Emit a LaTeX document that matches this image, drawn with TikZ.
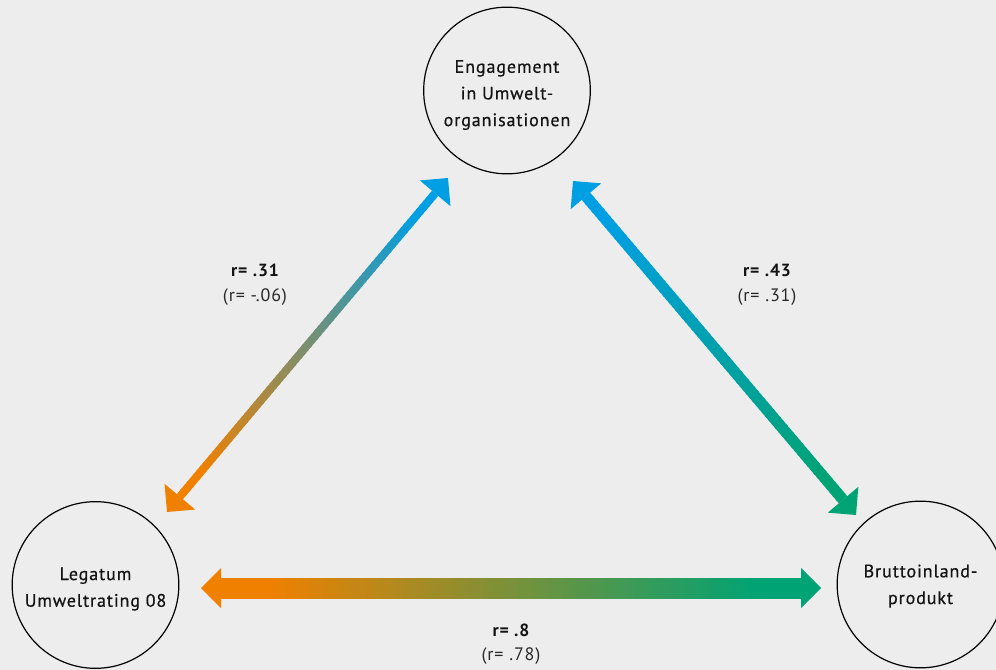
\documentclass[tikz,border=0pt]{standalone}
\usepackage{fontspec}
\setmainfont{PT Sans}[LetterSpace=5]
\newfontfamily\medfont{PT Sans}[LetterSpace=5,FakeBold=0.6]
\usetikzlibrary{calc}
\definecolor{bg}{RGB}{237,237,237}
\definecolor{corange}{RGB}{240,128,0}
\definecolor{cblue}{RGB}{0,159,227}
\definecolor{cgreen}{RGB}{0,163,116}
\definecolor{ctext}{RGB}{20,20,20}
\definecolor{csub}{RGB}{40,40,40}
% #1 start coord, #2 end coord, #3 shaft width, #4 start colour, #5 end colour
\newcommand\gradarrow[5]{%
  \coordinate (#1h) at ($(#1)!15pt!(#2)$);
  \coordinate (#2h) at ($(#2)!15pt!(#1)$);
  \foreach \i in {0,...,79}{
    \pgfmathsetmacro\ta{\i/80}
    \pgfmathsetmacro\tb{min((\i+1.5)/80,1)}
    \pgfmathtruncatemacro\pc{100*min(max(((\i+0.5)/80-0.08)/0.84,0),1)}
    \draw[line width=#3, color=#5!\pc!#4] ($(#1h)!\ta!(#2h)$) -- ($(#1h)!\tb!(#2h)$);
  }
  \fill[#4] (#1) -- ($(#1h)!15pt!90:(#1)$) -- ($(#1h)!15pt!-90:(#1)$) -- cycle;
  \fill[#5] (#2) -- ($(#2h)!15pt!90:(#2)$) -- ($(#2h)!15pt!-90:(#2)$) -- cycle;
}
\tikzset{
  concept/.style={circle, draw=black, line width=0.9pt, minimum size=125pt, inner sep=0pt},
  ctitle/.style={align=center, inner sep=0pt, font=\fontsize{13.5}{20}\medfont, text=ctext},
  rmain/.style={font=\fontsize{13.2}{15}\selectfont\bfseries, text=ctext},
  rsub/.style={font=\fontsize{13.5}{15}\selectfont, text=csub},
}
\begin{document}
\begin{tikzpicture}[x=0.75pt,y=-0.75pt]
\fill[bg] (0,0) rectangle (996,670);
\useasboundingbox (0,0) rectangle (996,670);

\node[concept] (T) at (507,90.5) {};
\node[concept] (L) at (95.5,585) {};
\node[concept] (R) at (920.5,584.5) {};
\node[ctitle] (Tt) at ([yshift=-3.4pt]T.center) {Engagement\\in Umwelt-\\organisationen};
\node[ctitle] (Lt) at ([yshift=-3pt]L.center) {Legatum\\Umweltrating 08};
\node[ctitle] (Rt) at ([yshift=-1.2pt]R.center) {Bruttoinland-\\produkt};

\coordinate (a1) at (167,512);
\coordinate (a2) at (448,178);
\coordinate (b1) at (573,181);
\coordinate (b2) at (856,515);
\coordinate (c1) at (201,588);
\coordinate (c2) at (821,588);

\gradarrow{a1}{a2}{6pt}{corange}{cblue}
\gradarrow{b1}{b2}{8.25pt}{cblue}{cgreen}
\gradarrow{c1}{c2}{15.75pt}{corange}{cgreen}

\node[rmain] (la) at (255,270) {r= .31};
\node[rsub]  (lb) at (255,297) {(r= -.06)};
\node[rmain] (ra) at (767,270) {r= .43};
\node[rsub]  (rb) at (767,297) {(r= .31)};
\node[rmain] (ba) at (511,630) {r= .8};
\node[rsub]  (bb) at (511,656) {(r= .78)};
\end{tikzpicture}
\end{document}
